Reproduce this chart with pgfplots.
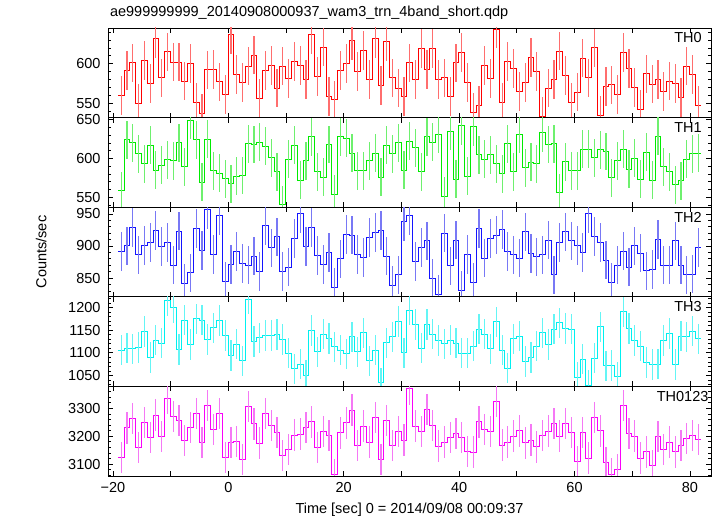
\documentclass[border=0pt]{standalone}
\usepackage{pgfplots}
\usepackage{pgfplotstable}
\pgfplotsset{compat=1.18}
\usepackage{fontspec}
\setmainfont{Liberation Sans}
\newcommand{\fs}{\fontsize{14.5}{17}\selectfont}
\definecolor{rd}{RGB}{255,0,0}
\definecolor{gr}{RGB}{0,235,0}
\definecolor{bl}{RGB}{20,20,255}
\definecolor{cy}{RGB}{0,240,240}
\definecolor{mg}{RGB}{250,0,250}
\definecolor{rdl}{RGB}{255,110,110}
\definecolor{grl}{RGB}{110,240,110}
\definecolor{bll}{RGB}{120,120,245}
\definecolor{cyl}{RGB}{100,245,245}
\definecolor{mgl}{RGB}{245,120,245}

\pgfplotstableread{
t a b c d e
-19.05 560 558 891 1106 3124
-18.05 591 624 900 1110 3230
-17.05 601 620 929 1109 3264
-16.05 550 606 886 1112 3160
-15.05 604 593 901 1147 3249
-14.05 575 617 905 1090 3195
-13.05 632 585 924 1128 3275
-12.05 582 591 899 1121 3198
-11.05 615 598 905 1215 3335
-10.05 602 597 870 1200 3271
-9.05 602 620 923 1107 3257
-8.05 578 589 842 1172 3185
-7.05 600 649 858 1118 3231
-6.05 551 624 927 1175 3281
-5.05 537 569 893 1172 3177
-4.05 592 625 957 1129 3310
-3.05 593 584 887 1155 3224
-2.05 577 581 947 1171 3281
-1.05 561 574 845 1138 3123
-0.05 637 567 871 1094 3177
0.95 586 577 891 1119 3180
1.95 576 578 873 1082 3117
2.95 597 619 870 1218 3307
3.95 611 618 884 1125 3244
4.95 556 621 860 1133 3175
5.95 591 616 932 1138 3281
6.95 598 601 897 1138 3239
7.95 569 583 914 1140 3213
8.95 597 540 860 1129 3131
9.95 581 599 867 1099 3152
10.95 603 617 912 1065 3204
11.95 598 572 950 1075 3207
12.95 580 597 899 1050 3231
13.95 637 628 929 1149 3251
14.95 584 583 885 1102 3160
15.95 621 576 871 1141 3217
16.95 558 618 890 1132 3202
17.95 554 554 835 1113 3062
18.95 591 628 880 1106 3212
19.95 600 626 918 1098 3248
20.95 629 607 917 1135 3293
21.95 590 584 887 1102 3167
22.95 617 584 882 1144 3236
23.95 580 597 913 1082 3179
24.95 632 607 921 1106 3267
25.95 572 576 924 1034 3117
26.95 628 617 884 1122 3256
27.95 582 606 839 1135 3167
28.95 569 620 855 1169 3217
29.95 558 585 938 1100 3186
30.95 601 622 947 1194 3370
31.95 580 614 876 1162 3236
32.95 619 583 898 1110 3217
33.95 593 628 908 1162 3295
34.95 619 621 849 1141 3239
35.95 580 631 825 1127 3164
36.95 582 551 920 1120 3179
37.95 558 635 869 1128 3195
38.95 601 573 909 1121 3210
39.95 614 642 831 1099 3195
40.95 576 577 887 1099 3145
41.95 538 641 843 1115 3143
42.95 547 605 927 1152 3251
43.95 598 599 881 1141 3224
44.95 581 605 912 1109 3217
45.95 644 593 917 1168 3325
46.95 551 580 926 1106 3168
47.95 603 619 891 1066 3179
48.95 594 583 886 1131 3200
49.95 565 631 881 1137 3219
50.95 576 588 922 1081 3176
51.95 608 595 888 1090 3186
52.95 590 593 883 1115 3162
53.95 533 633 886 1144 3202
54.95 569 618 909 1118 3218
55.95 580 619 855 1152 3245
56.95 616 556 905 1166 3200
57.95 585 596 922 1154 3245
58.95 551 584 908 1152 3213
59.95 564 584 901 1046 3108
60.95 607 612 890 1086 3213
61.95 582 612 950 1029 3121
62.95 620 601 915 1088 3267
63.95 534 611 905 1157 3219
64.95 571 609 878 1071 3105
65.95 573 575 843 1072 3064
66.95 561 597 870 1047 3081
67.95 614 612 892 1190 3310
68.95 594 586 867 1154 3210
69.95 570 600 900 1127 3200
70.95 542 573 889 1115 3121
71.95 587 608 861 1079 3144
72.95 574 572 863 1074 3093
73.95 580 629 910 1075 3198
74.95 565 589 870 1127 3152
75.95 578 583 870 1143 3179
76.95 575 566 908 1074 3144
77.95 557 571 870 1137 3167
78.95 597 599 855 1135 3191
79.95 586 606 856 1148 3202
80.95 547 607 898 1131 3188
81.95 547 607 898 1131 3188
}\datatable

\pgfplotsset{
  panel/.style={
    scale only axis, width=603pt, height=89.6pt, anchor=south west,
    xmin=-20.85, xmax=83.65,
    clip mode=individual,
    tick align=inside,
    xtick={-20,-10,...,80}, xticklabels={},
    major tick length=5pt, minor tick length=3pt,
    axis line style={line width=0.9pt},
    every tick/.style={black, line width=0.7pt},
    tick label style={font=\fs},
    label style={font=\fs},
    /pgf/number format/assume math mode=true,
    /pgf/number format/1000 sep={},
    yticklabel style={xshift=-4pt},
  },
  stepline/.style={const plot mark left, mark=none, line width=1pt, draw=#1, fill=none,
    error bars/y dir=none},
  errs/.style n args={2}{draw=none, mark=none, skip coords between index={101}{102},
    error bars/.cd, y dir=both, y fixed=#2, error mark=none,
    error bar style={draw=#1, line width=1.2pt}},
}

\begin{document}
\begin{tikzpicture}
\path[use as bounding box] (-108pt,-40pt) rectangle (609pt,476pt);

% TH0
\begin{axis}[panel, at={(0pt,358.4pt)}, ymin=531.6, ymax=645.3,
  ytick={550,600}, minor ytick={540,560,570,580,590,610,620,630,640}]
\addplot[stepline=rd] table[x=t,y=a]{\datatable};
\addplot[errs={rdl}{24.5}] table[x expr=\thisrow{t}+0.5,y=a]{\datatable};
\node[anchor=north east, inner sep=0pt, font=\fs] at (rel axis cs:0.985,0.95) {TH0};
\node[anchor=base west, inner sep=0pt, font=\fs] at (rel axis cs:0.003,1) [yshift=11pt] {ae999999999\_20140908000937\_wam3\_trn\_4band\_short.qdp};
\end{axis}

% TH1
\begin{axis}[panel, at={(0pt,268.8pt)}, ymin=537, ymax=652.8,
  ytick={550,600,650}, minor ytick={540,560,570,580,590,610,620,630,640}]
\addplot[stepline=gr] table[x=t,y=b]{\datatable};
\addplot[errs={grl}{24.5}] table[x expr=\thisrow{t}+0.5,y=b]{\datatable};
\node[anchor=north east, inner sep=0pt, font=\fs] at (rel axis cs:0.985,0.95) {TH1};
\end{axis}

% TH2
\begin{axis}[panel, at={(0pt,179.2pt)}, ymin=820.8, ymax=960.4,
  ytick={850,900,950}, minor ytick={830,840,860,870,880,890,910,920,930,940,960},
  ylabel={Counts/sec}, ylabel style={at={(axis description cs:-0.111,0.5)}, anchor=center}]
\addplot[stepline=bl] table[x=t,y=c]{\datatable};
\addplot[errs={bll}{30}] table[x expr=\thisrow{t}+0.5,y=c]{\datatable};
\node[anchor=north east, inner sep=0pt, font=\fs] at (rel axis cs:0.985,0.95) {TH2};
\end{axis}

% TH3
\begin{axis}[panel, at={(0pt,89.6pt)}, ymin=1026, ymax=1223.5,
  ytick={1050,1100,1150,1200}, minor ytick={1030,1040,1060,1070,1080,1090,1110,1120,1130,1140,1160,1170,1180,1190,1210,1220}]
\addplot[stepline=cy] table[x=t,y=d]{\datatable};
\addplot[errs={cyl}{33.5}] table[x expr=\thisrow{t}+0.5,y=d]{\datatable};
\node[anchor=north east, inner sep=0pt, font=\fs] at (rel axis cs:0.985,0.95) {TH3};
\end{axis}

% TH0123
\begin{axis}[panel, at={(0pt,0pt)}, ymin=3057, ymax=3378.6,
  ytick={3100,3200,3300}, minor ytick={3060,3080,3120,3140,3160,3180,3220,3240,3260,3280,3320,3340,3360},
  xticklabels={−20,,0,,20,,40,,60,,80},
  xticklabel style={yshift=-3pt},
  xlabel={Time [sec] 0 = 2014/09/08 00:09:37},
  xlabel style={at={(axis description cs:0.5,0)}, anchor=base, yshift=-37pt}]
\addplot[stepline=mg] table[x=t,y=e]{\datatable};
\addplot[errs={mgl}{56.6}] table[x expr=\thisrow{t}+0.5,y=e]{\datatable};
\node[anchor=north east, inner sep=0pt, font=\fs] at (rel axis cs:0.996,0.95) {TH0123};
\end{axis}
\end{tikzpicture}
\end{document}
